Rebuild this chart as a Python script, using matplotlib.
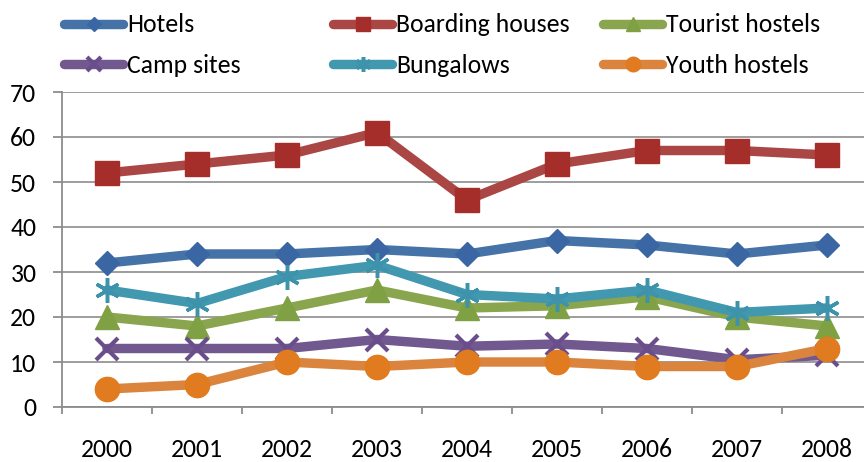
import matplotlib
matplotlib.use("Agg")
import matplotlib.pyplot as plt
from matplotlib.ticker import MultipleLocator, FixedLocator

years = ["2000", "2001", "2002", "2003", "2004", "2005", "2006", "2007", "2008"]
hotels = [32, 34, 34, 35, 34, 37, 36, 34, 36]
boarding = [52, 54, 56, 61, 46, 54, 57, 57, 56]
tourist = [20, 18, 22, 26, 22, 22.5, 24.5, 20, 18]
camp = [13, 13, 13, 15, 13.5, 14, 13, 10.5, 11.5]
bungalows = [26, 23, 29, 31.5, 25, 24, 26, 21, 22]
youth = [4, 5, 10, 9, 10, 10, 9, 9, 13]

names = ["Hotels", "Boarding houses", "Tourist hostels", "Camp sites", "Bungalows", "Youth hostels"]
series = [hotels, boarding, tourist, camp, bungalows, youth]
colors = ["#4572A7", "#AA4643", "#89A54E", "#71588F", "#4198AF", "#DB843D"]
mcolors = ["#3A67A3", "#A52E2B", "#7FA043", "#6A4E8C", "#3D93AB", "#E07B1F"]
markers = ["D", "s", "^", "x", (6, 2, 0), "o"]
msizes = [12.5, 17, 17, 16, 18, 17.5]
mews = [1, 1, 1, 3, 2.5, 1]

plt.rcParams['font.family'] = ['Carlito', 'DejaVu Sans']
FS = 18.5
W, H = 864, 462
fig = plt.figure(figsize=(W / 100, H / 100), dpi=100)
ax = fig.add_axes([62 / W, 55 / H, 810 / W, 315 / H])

x = list(range(len(years)))
lines = []
for vals, c, mc, m, ms, mew in zip(series, colors, mcolors, markers, msizes, mews):
    ln, = ax.plot(x, vals, color=c, lw=6.8, marker=m, markersize=ms,
                  markerfacecolor=mc, markeredgecolor=mc, markeredgewidth=mew,
                  solid_capstyle='round', solid_joinstyle='round', clip_on=False, zorder=3)
    lines.append(ln)

ax.set_xlim(-0.5, 8.5)
ax.set_ylim(0, 70)
ax.yaxis.set_major_locator(MultipleLocator(10))
ax.set_xticks(x)
ax.set_xticklabels(years)
ax.xaxis.set_minor_locator(FixedLocator([i + 0.5 for i in range(-1, 9)]))
ax.tick_params(axis='x', which='major', length=0, pad=22, labelsize=FS)
ax.tick_params(axis='x', which='minor', length=5, width=1.3, color='#8c8c8c', direction='out')
ax.tick_params(axis='y', length=6.5, width=1.3, color='#8c8c8c', pad=12, labelsize=FS)
ax.grid(axis='y', color='#8c8c8c', lw=1.2, zorder=0)
ax.set_axisbelow(True)
for s in ['top', 'right']:
    ax.spines[s].set_visible(False)
for s in ['left', 'bottom']:
    ax.spines[s].set_color('#8c8c8c')
    ax.spines[s].set_linewidth(1.3)

# legend entries, Excel-style fixed column layout
pos = [(64, 25), (333, 25), (603, 25), (64, 65), (333, 65), (603, 65)]
for ln, name, (px, py) in zip(lines, names, pos):
    fig.legend(handles=[ln], labels=[name], loc='center left',
               bbox_to_anchor=(px / W, 1 - py / H), frameon=False,
               borderpad=0, borderaxespad=0, handlelength=2.3, handletextpad=0.15,
               fontsize=FS, numpoints=1, markerscale=0.6)

fig.savefig("out.png", dpi=100)
